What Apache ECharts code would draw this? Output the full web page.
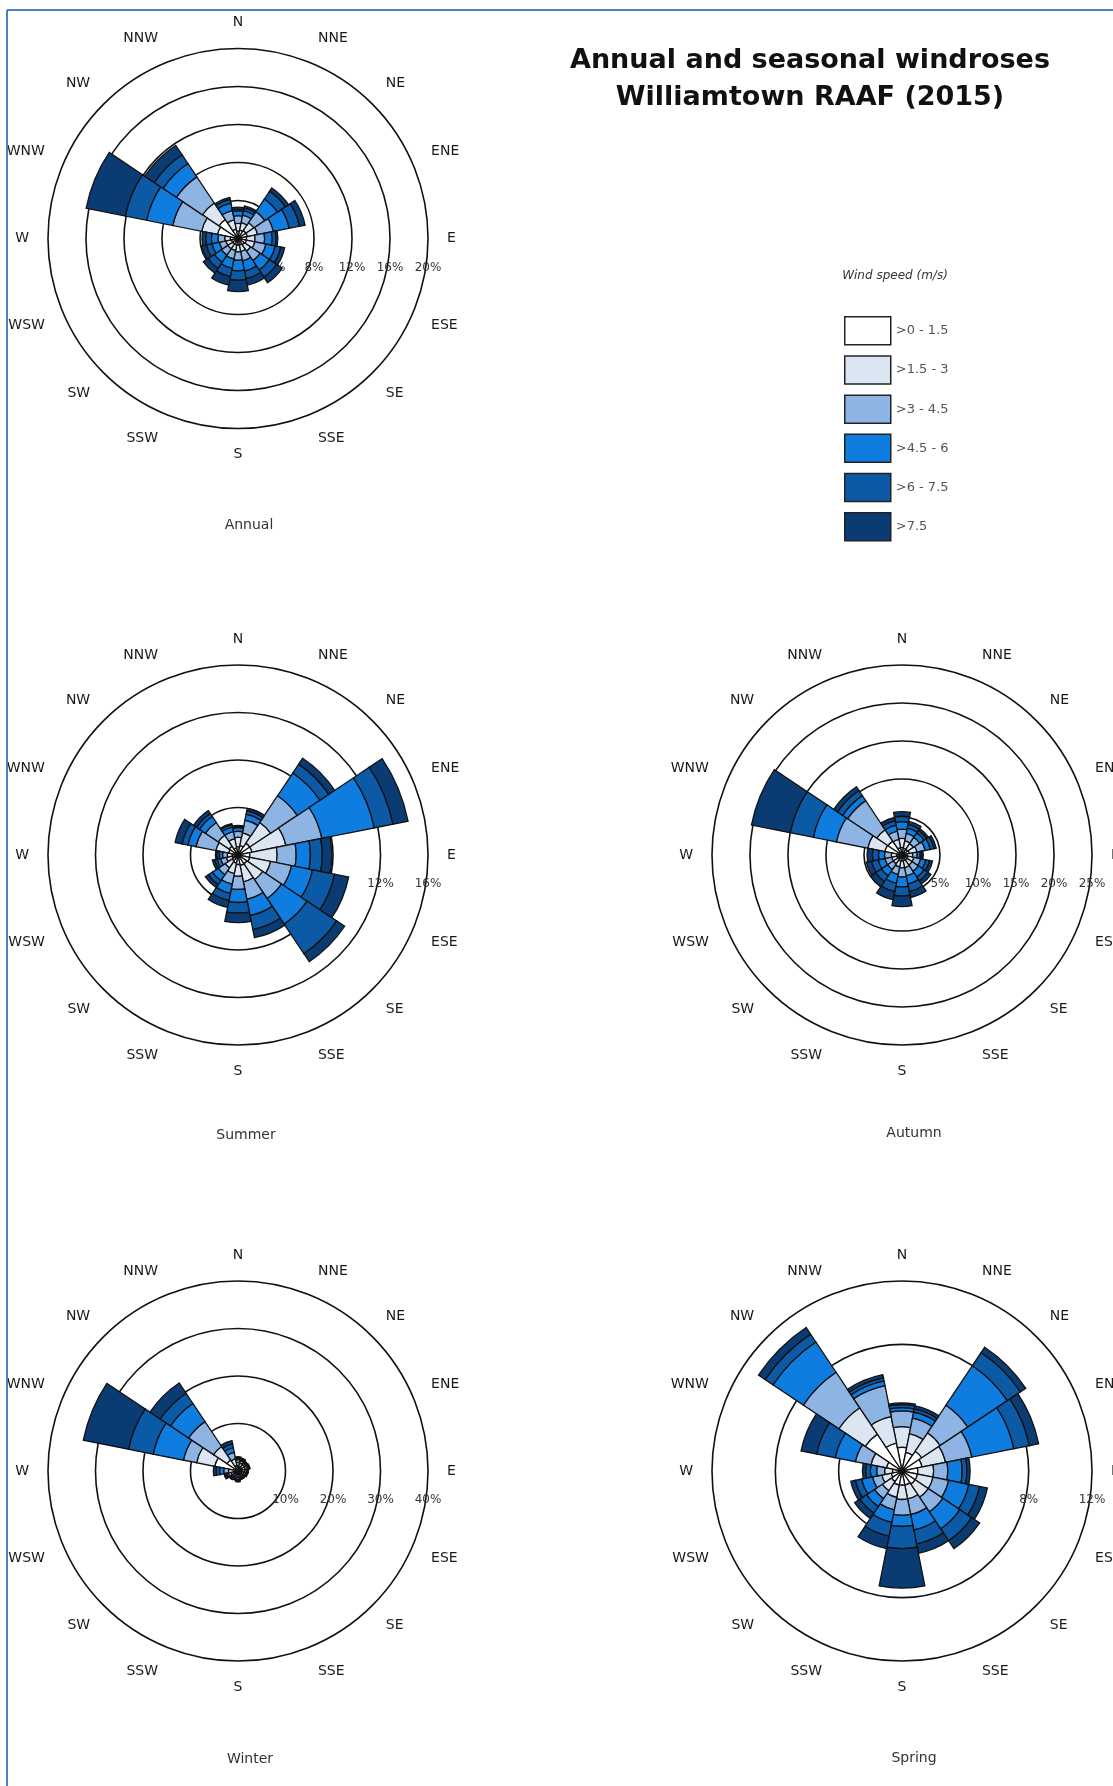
<!DOCTYPE html>
<html>
<head>
<meta charset="utf-8">
<title>Annual and seasonal windroses – Williamtown RAAF (2015)</title>
<script src="https://cdn.jsdelivr.net/npm/echarts@6/dist/echarts.min.js"></script>
<style>
  html, body { margin: 0; padding: 0; background: #ffffff; }
  #chart { width: 1113px; height: 1786px; }
</style>
</head>
<body>
<div id="chart"></div>
<script>
// Compass sectors, clockwise from north
const directions = ['N', 'NNE', 'NE', 'ENE', 'E', 'ESE', 'SE', 'SSE', 'S', 'SSW', 'SW', 'WSW', 'W', 'WNW', 'NW', 'NNW'];

// Wind speed classes (m/s) and their fills
const speedClasses = ['>0 - 1.5', '>1.5 - 3', '>3 - 4.5', '>4.5 - 6', '>6 - 7.5', '>7.5'];
const speedColors = ['#ffffff', '#dce6f2', '#8eb4e3', '#0f7ddf', '#0c5aa6', '#0a3c73'];

// Frequency (% of hours) per speed class (rows) and direction (columns)
const annualFreq = [
  [0.8, 0.9, 1.0, 1.0, 0.9, 0.9, 0.8, 0.7, 0.7, 0.7, 0.7, 0.7, 0.8, 2.2, 2.4, 1.0],
  [0.8, 0.8, 1.0, 1.1, 0.9, 0.9, 0.8, 0.7, 0.7, 0.6, 0.6, 0.6, 0.6, 1.7, 2.1, 1.0],
  [0.8, 0.8, 1.4, 1.7, 1.0, 1.2, 1.2, 1.0, 0.9, 0.9, 0.8, 0.7, 0.7, 3.1, 3.3, 1.0],
  [0.5, 0.5, 1.6, 1.7, 0.8, 1.0, 1.2, 1.1, 1.1, 1.0, 0.9, 0.8, 0.7, 2.8, 1.7, 0.8],
  [0.2, 0.3, 1.0, 1.1, 0.4, 0.6, 0.9, 0.8, 1.0, 0.9, 0.8, 0.6, 0.6, 2.3, 1.1, 0.4],
  [0.2, 0.2, 0.4, 0.6, 0.2, 0.4, 0.7, 0.7, 1.2, 0.9, 0.6, 0.5, 0.4, 4.2, 1.2, 0.2]
];
const summerFreq = [
  [0.7, 0.8, 1.2, 1.2, 1.0, 1.0, 0.9, 0.9, 0.8, 0.7, 0.6, 0.5, 0.5, 0.8, 0.9, 0.6],
  [0.8, 1.1, 2.1, 2.9, 2.3, 1.8, 1.6, 1.4, 1.0, 0.9, 0.7, 0.5, 0.4, 1.1, 1.1, 0.8],
  [0.5, 1.1, 2.7, 3.1, 1.6, 1.8, 1.9, 1.5, 1.1, 0.9, 0.7, 0.5, 0.4, 1.7, 1.3, 0.6],
  [0.3, 0.5, 2.3, 4.5, 1.2, 1.8, 2.6, 1.4, 1.1, 0.8, 0.6, 0.3, 0.3, 0.7, 0.6, 0.4],
  [0.1, 0.3, 0.9, 1.6, 1.0, 1.9, 3.0, 1.2, 0.9, 0.6, 0.4, 0.2, 0.2, 0.5, 0.3, 0.2],
  [0.1, 0.2, 0.6, 1.3, 0.8, 1.2, 0.8, 0.7, 0.8, 0.6, 0.3, 0.2, 0.1, 0.6, 0.3, 0.1]
];
const autumnFreq = [
  [1.0, 0.9, 0.9, 1.0, 0.7, 0.8, 0.8, 0.8, 0.8, 0.8, 0.7, 0.7, 0.7, 2.3, 2.2, 1.0],
  [1.2, 1.0, 0.9, 1.0, 0.7, 0.8, 0.8, 0.9, 0.9, 0.8, 0.7, 0.7, 0.7, 2.3, 1.8, 1.1],
  [1.2, 1.0, 1.0, 1.1, 0.6, 0.9, 1.0, 1.1, 1.2, 1.0, 0.9, 0.9, 0.9, 4.2, 4.6, 1.1],
  [1.0, 0.7, 0.7, 0.7, 0.4, 0.7, 0.9, 1.1, 1.3, 1.2, 1.0, 0.9, 0.8, 3.1, 0.8, 0.8],
  [0.7, 0.5, 0.4, 0.5, 0.2, 0.5, 0.6, 1.0, 1.2, 1.1, 0.9, 0.9, 0.8, 3.1, 0.8, 0.6],
  [0.6, 0.4, 0.3, 0.3, 0.2, 0.4, 0.5, 0.8, 1.4, 1.1, 0.8, 0.7, 0.7, 5.2, 0.6, 0.4]
];
const winterFreq = [
  [1.0, 0.9, 0.9, 0.9, 0.8, 0.8, 0.7, 0.7, 0.8, 0.7, 0.7, 0.8, 1.0, 5.0, 2.8, 1.2],
  [0.8, 0.8, 0.7, 0.7, 0.6, 0.5, 0.5, 0.5, 0.6, 0.5, 0.5, 0.7, 1.0, 3.9, 3.4, 1.4],
  [0.6, 0.5, 0.4, 0.5, 0.4, 0.4, 0.3, 0.3, 0.4, 0.4, 0.4, 0.6, 1.0, 2.8, 6.3, 1.4],
  [0.3, 0.3, 0.3, 0.3, 0.2, 0.2, 0.2, 0.2, 0.3, 0.2, 0.3, 0.4, 0.9, 6.5, 4.6, 1.0],
  [0.2, 0.2, 0.1, 0.1, 0.1, 0.1, 0.1, 0.1, 0.1, 0.1, 0.2, 0.3, 0.7, 5.3, 2.6, 0.8],
  [0.1, 0.1, 0.1, 0.1, 0.1, 0.1, 0.1, 0.1, 0.1, 0.1, 0.1, 0.2, 0.6, 9.7, 2.6, 0.7]
];
const springFreq = [
  [1.5, 1.2, 1.5, 1.3, 1.0, 1.0, 1.0, 0.9, 0.9, 0.9, 0.8, 0.7, 0.6, 1.0, 2.8, 1.8],
  [1.3, 1.2, 1.4, 1.5, 1.0, 1.0, 1.0, 0.9, 0.9, 0.8, 0.7, 0.6, 0.5, 1.0, 2.0, 1.7],
  [1.0, 1.0, 2.1, 1.7, 0.9, 1.0, 1.1, 1.0, 1.0, 0.8, 0.6, 0.6, 0.5, 1.0, 2.7, 2.0],
  [0.2, 0.4, 3.0, 2.7, 0.9, 1.3, 1.3, 1.0, 0.7, 0.8, 0.6, 0.7, 0.4, 1.3, 2.3, 0.3],
  [0.2, 0.2, 1.0, 1.0, 0.3, 0.7, 0.9, 0.9, 1.4, 0.9, 0.5, 0.4, 0.3, 1.2, 0.6, 0.2],
  [0.1, 0.2, 0.4, 0.6, 0.2, 0.5, 0.6, 0.6, 2.5, 0.8, 0.4, 0.3, 0.2, 1.0, 0.5, 0.2]
];

// Panels and their radial scales (%)
const roseNames = ['Annual', 'Summer', 'Autumn', 'Winter', 'Spring'];
const roseFreqs = [annualFreq, summerFreq, autumnFreq, winterFreq, springFreq];
const roseRingMax = [20, 16, 25, 40, 12];
const roseRingStep = [4, 4, 5, 10, 4];

// Panel placement on the page
const FONT = '"DejaVu Sans", "Noto Sans", sans-serif';
const panelLayout = [
  { center: [238, 238.5], nameAt: [249, 526] },
  { center: [238, 855], nameAt: [246, 1136] },
  { center: [902, 855], nameAt: [914, 1134] },
  { center: [238, 1471], nameAt: [250, 1760] },
  { center: [902, 1471], nameAt: [914, 1759] }
];
const RADIUS = 190;

const polar = [];
const angleAxis = [];
const radiusAxis = [];
const series = [];
const titles = [];

roseNames.forEach(function (name, r) {
  const lay = panelLayout[r];
  const barPolar = 2 * r;
  const tickPolar = 2 * r + 1;

  // polar holding the bars and the rings
  polar.push({ center: lay.center, radius: RADIUS });
  // polar carrying only the % tick labels on a horizontal line to the east
  polar.push({ center: lay.center, radius: RADIUS });

  angleAxis.push({
    polarIndex: barPolar,
    type: 'category',
    data: directions,
    startAngle: 90 + 360 / directions.length / 2,
    clockwise: true,
    boundaryGap: true,
    axisLine: { show: false },
    axisTick: { show: false },
    splitLine: { show: false },
    axisLabel: { interval: 0, margin: 19, fontSize: 14, color: '#1a1a1a', fontFamily: FONT }
  });
  angleAxis.push({
    polarIndex: tickPolar,
    type: 'category',
    data: directions,
    startAngle: 0,
    show: false
  });

  radiusAxis.push({
    polarIndex: barPolar,
    type: 'value',
    min: 0,
    max: roseRingMax[r],
    interval: roseRingStep[r],
    z: 0,
    axisLine: { show: false },
    axisTick: { show: false },
    axisLabel: { show: false },
    splitLine: { show: true, lineStyle: { color: '#111', width: 1.6 } }
  });
  radiusAxis.push({
    polarIndex: tickPolar,
    type: 'value',
    min: 0,
    max: roseRingMax[r],
    interval: roseRingStep[r],
    z: 1,
    axisLine: { show: false },
    axisTick: { show: false },
    splitLine: { show: false },
    axisLabel: {
      show: true,
      margin: -29,
      align: 'center',
      verticalAlign: 'middle',
      fontSize: 12,
      color: '#333',
      fontFamily: FONT,
      formatter: function (v) { return v === 0 ? '' : v + '%'; }
    }
  });

  speedClasses.forEach(function (cls, k) {
    series.push({
      type: 'bar',
      name: cls,
      coordinateSystem: 'polar',
      polarIndex: barPolar,
      stack: 'rose' + r,
      data: roseFreqs[r][k],
      barCategoryGap: '0%',
      z: 3,
      silent: true,
      itemStyle: { color: speedColors[k], borderColor: '#111', borderWidth: 1.3 }
    });
  });

  titles.push({
    text: name,
    left: lay.nameAt[0],
    top: lay.nameAt[1] - 8,
    textAlign: 'center',
    padding: 0,
    textStyle: { fontSize: 14, fontWeight: 'normal', color: '#333', fontFamily: FONT }
  });
});

titles.push({
  text: 'Annual and seasonal windroses\nWilliamtown RAAF (2015)',
  left: 810,
  top: 42,
  textAlign: 'center',
  padding: 0,
  textStyle: { fontSize: 27, fontWeight: 'bold', color: '#111', lineHeight: 37.5, fontFamily: FONT }
});
titles.push({
  text: 'Wind speed (m/s)',
  left: 895,
  top: 270,
  textAlign: 'center',
  padding: 0,
  textStyle: { fontSize: 12, fontStyle: 'italic', fontWeight: 'normal', color: '#333', fontFamily: FONT }
});

const chart = echarts.init(document.getElementById('chart'), null, { renderer: 'canvas' });
chart.setOption({
  backgroundColor: '#ffffff',
  animation: false,
  title: titles,
  legend: {
    data: speedClasses,
    orient: 'vertical',
    left: 844,
    top: 316,
    padding: 0,
    itemWidth: 46,
    itemHeight: 28,
    itemGap: 9.7,
    icon: 'rect',
    selectedMode: false,
    itemStyle: { borderColor: '#222', borderWidth: 1.5 },
    textStyle: { fontSize: 13, color: '#555', fontFamily: FONT }
  },
  polar: polar,
  angleAxis: angleAxis,
  radiusAxis: radiusAxis,
  series: series,
  graphic: [
    { type: 'line', z: 100, shape: { x1: 7, y1: 10, x2: 1113, y2: 10 }, style: { stroke: '#4f81bd', lineWidth: 2 } },
    { type: 'line', z: 100, shape: { x1: 7, y1: 10, x2: 7, y2: 1786 }, style: { stroke: '#4f81bd', lineWidth: 2 } }
  ]
});
</script>
</body>
</html>
